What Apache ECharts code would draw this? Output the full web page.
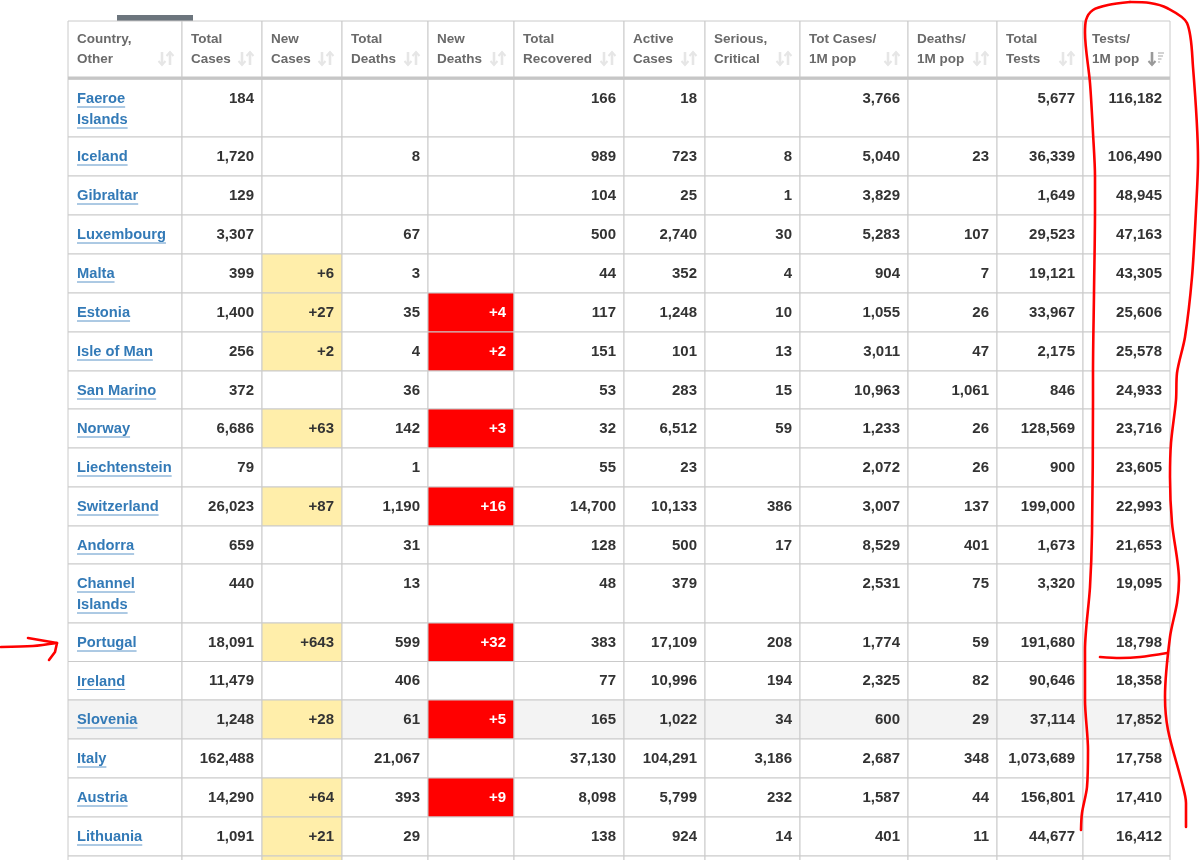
<!DOCTYPE html>
<html>
<head>
<meta charset="utf-8">
<title>Tests per 1M pop</title>
<script src="https://cdn.jsdelivr.net/npm/echarts@6/dist/echarts.min.js"></script>
<style>
html, body { margin: 0; padding: 0; background: #fff; overflow: hidden; }
#chart { width: 1200px; height: 860px; }
</style>
</head>
<body>
<div id="chart"></div>
<script>
// table values, as printed. last entry of each list is the row cut off by the picture edge
var headers = [
    ['Country,', 'Other'], ['Total', 'Cases'], ['New', 'Cases'], ['Total', 'Deaths'],
    ['New', 'Deaths'], ['Total', 'Recovered'], ['Active', 'Cases'], ['Serious,', 'Critical'],
    ['Tot Cases/', '1M pop'], ['Deaths/', '1M pop'], ['Total', 'Tests'], ['Tests/', '1M pop']
];
var countries = [['Faeroe', 'Islands'], ['Iceland'], ['Gibraltar'], ['Luxembourg'], ['Malta'], ['Estonia'], ['Isle of Man'], ['San Marino'], ['Norway'], ['Liechtenstein'], ['Switzerland'], ['Andorra'], ['Channel', 'Islands'], ['Portugal'], ['Ireland'], ['Slovenia'], ['Italy'], ['Austria'], ['Lithuania'], ['']];
var totalCases = ['184', '1,720', '129', '3,307', '399', '1,400', '256', '372', '6,686', '79', '26,023', '659', '440', '18,091', '11,479', '1,248', '162,488', '14,290', '1,091', ''];
var newCases = ['', '', '', '', '+6', '+27', '+2', '', '+63', '', '+87', '', '', '+643', '', '+28', '', '+64', '+21', ' '];
var totalDeaths = ['', '8', '', '67', '3', '35', '4', '36', '142', '1', '1,190', '31', '13', '599', '406', '61', '21,067', '393', '29', ''];
var newDeaths = ['', '', '', '', '', '+4', '+2', '', '+3', '', '+16', '', '', '+32', '', '+5', '', '+9', '', ''];
var totalRecovered = ['166', '989', '104', '500', '44', '117', '151', '53', '32', '55', '14,700', '128', '48', '383', '77', '165', '37,130', '8,098', '138', ''];
var activeCases = ['18', '723', '25', '2,740', '352', '1,248', '101', '283', '6,512', '23', '10,133', '500', '379', '17,109', '10,996', '1,022', '104,291', '5,799', '924', ''];
var seriousCritical = ['', '8', '1', '30', '4', '10', '13', '15', '59', '', '386', '17', '', '208', '194', '34', '3,186', '232', '14', ''];
var casesPerMillion = ['3,766', '5,040', '3,829', '5,283', '904', '1,055', '3,011', '10,963', '1,233', '2,072', '3,007', '8,529', '2,531', '1,774', '2,325', '600', '2,687', '1,587', '401', ''];
var deathsPerMillion = ['', '23', '', '107', '7', '26', '47', '1,061', '26', '26', '137', '401', '75', '59', '82', '29', '348', '44', '11', ''];
var totalTests = ['5,677', '36,339', '1,649', '29,523', '19,121', '33,967', '2,175', '846', '128,569', '900', '199,000', '1,673', '3,320', '191,680', '90,646', '37,114', '1,073,689', '156,801', '44,677', ''];
var testsPerMillion = ['116,182', '106,490', '48,945', '47,163', '43,305', '25,606', '25,578', '24,933', '23,716', '23,605', '22,993', '21,653', '19,095', '18,798', '18,358', '17,852', '17,758', '17,410', '16,412', ''];

var columns = [countries, totalCases, newCases, totalDeaths, newDeaths, totalRecovered, activeCases, seriousCritical, casesPerMillion, deathsPerMillion, totalTests, testsPerMillion];

// hand drawn red pen marks
var penBracketLeft = [[1130, 2], [1108, 5], [1093, 10], [1086, 20], [1085, 33], [1090, 83], [1093, 133], [1095, 177], [1095, 210], [1094, 293], [1093, 373], [1093, 400], [1092, 533], [1090, 587], [1085, 650], [1085, 700], [1088, 750], [1087, 787], [1082, 813], [1081, 830]];
var penBracketRight = [[1130, 2], [1150, 3], [1167, 8], [1187, 23], [1193, 67], [1198, 160], [1196, 210], [1192, 277], [1185, 337], [1177, 373], [1176, 400], [1171, 443], [1170, 477], [1172, 523], [1179, 580], [1177, 603], [1170, 637], [1165, 697], [1168, 730], [1182, 783], [1186, 803], [1186, 827]];
var penUnderline = [[1100, 657], [1120, 658], [1140, 657], [1167, 653]];
var penArrowShaft = [[1, 647], [33, 646], [57, 643]];
var penArrowHead = [[28, 638], [57, 643], [55, 652], [49, 660]];

// layout of the table, in pixels
var colEdges = [68, 182, 262, 342, 428, 514, 624, 705, 800, 908, 997, 1083, 1170];
var rowEdges = [79, 137, 176, 215, 254, 293, 332, 371, 409, 448, 487, 526, 564, 623, 661.5, 700, 739, 778, 817, 856, 895];
var headerTop = 21;
var highlightRow = 15;
var sortedColumn = 11;

var FONT = '"Liberation Sans", Arial, sans-serif';
var LINE = '#cacaca';
var measure = document.createElement('canvas').getContext('2d');

function cellFill(col, row, text) {
    if (col === 2 && text) return '#ffeeaa';
    if (col === 4 && text) return '#ff0000';
    if (row === highlightRow) return '#f3f3f3';
    return '#ffffff';
}

function renderCell(params, api) {
    var col = api.value(0), row = api.value(1);
    var lt = api.coord([colEdges[col], rowEdges[row]]);
    var rb = api.coord([colEdges[col + 1], rowEdges[row + 1]]);
    var value = columns[col][row];
    var children = [{
        type: 'rect',
        shape: { x: lt[0], y: lt[1], width: rb[0] - lt[0], height: rb[1] - lt[1] },
        style: { fill: cellFill(col, row, value), stroke: LINE, lineWidth: 1 }
    }];
    if (col === 0) {
        value.forEach(function (line, i) {
            var font = 'bold 14.7px ' + FONT;
            var y = lt[1] + 20 + i * 21;
            measure.font = font;
            var w = measure.measureText(line).width;
            children.push({
                type: 'text',
                style: { x: lt[0] + 9, y: y, text: line, font: font, fill: '#337ab7', align: 'left', verticalAlign: 'middle' }
            });
            if (line) {
                children.push({
                    type: 'line',
                    shape: { x1: lt[0] + 9, y1: y + 8, x2: lt[0] + 9 + w, y2: y + 8 },
                    style: { stroke: '#5a94c8', lineWidth: 1 }
                });
            }
        });
    } else if (value) {
        children.push({
            type: 'text',
            style: {
                x: rb[0] - 8, y: lt[1] + 19.5, text: value, font: 'bold 15px ' + FONT,
                fill: col === 4 ? '#ffffff' : '#333333', align: 'right', verticalAlign: 'middle'
            }
        });
    }
    return { type: 'group', children: children };
}

function arrow(x, y1, y2, color) {
    var dir = y2 > y1 ? -1 : 1;
    return [
        { type: 'line', shape: { x1: x, y1: y1, x2: x, y2: y2 }, style: { stroke: color, lineWidth: 2.6 } },
        { type: 'polyline', shape: { points: [[x - 3.5, y2 + dir * 4], [x, y2], [x + 3.5, y2 + dir * 4]] }, style: { fill: 'none', stroke: color, lineWidth: 2 } }
    ];
}

function renderHeader(params, api) {
    var col = api.value(0);
    var lt = api.coord([colEdges[col], headerTop]);
    var rb = api.coord([colEdges[col + 1], rowEdges[0]]);
    var children = [{
        type: 'rect',
        shape: { x: lt[0], y: lt[1], width: rb[0] - lt[0], height: rb[1] - lt[1] },
        style: { fill: '#ffffff', stroke: LINE, lineWidth: 1 }
    }, {
        type: 'line',
        shape: { x1: lt[0], y1: rb[1] - 1, x2: rb[0], y2: rb[1] - 1 },
        style: { stroke: '#c6c6c6', lineWidth: 3 }
    }];
    headers[col].forEach(function (line, i) {
        children.push({
            type: 'text',
            style: {
                x: lt[0] + 9, y: lt[1] + 18.5 + i * 20, text: line, font: 'bold 13.5px ' + FONT,
                fill: '#6a6a6a', align: 'left', verticalAlign: 'middle'
            }
        });
    });
    var right = rb[0];
    var top = lt[1] + 31, bottom = lt[1] + 44;
    if (col === sortedColumn) {
        children = children.concat(arrow(right - 18, top, bottom, '#9a9a9a'));
        [6, 5, 3.5, 2].forEach(function (w, i) {
            children.push({
                type: 'line',
                shape: { x1: right - 12, y1: top + 1 + i * 3, x2: right - 12 + w, y2: top + 1 + i * 3 },
                style: { stroke: '#c8c8c8', lineWidth: 1.6 }
            });
        });
    } else {
        children = children.concat(arrow(right - 20, top, bottom, '#e6e6e6'));
        children = children.concat(arrow(right - 12, bottom, top, '#e6e6e6'));
    }
    return { type: 'group', children: children };
}

function renderTab(params, api) {
    var lt = api.coord([117, 15]);
    var rb = api.coord([193, 21]);
    return { type: 'rect', shape: { x: lt[0], y: lt[1], width: rb[0] - lt[0], height: rb[1] - lt[1] }, style: { fill: '#6c757d' } };
}

function penSeries(points, smooth) {
    return {
        type: 'line',
        data: points,
        smooth: smooth,
        symbol: 'none',
        silent: true,
        z: 10,
        lineStyle: { color: '#ff0000', width: 2.6, cap: 'round', join: 'round' }
    };
}

var cellData = [];
columns.forEach(function (list, c) {
    list.forEach(function (v, r) { cellData.push([c, r]); });
});
var headerData = headers.map(function (h, c) { return [c]; });

var chart = echarts.init(document.getElementById('chart'), null, { renderer: 'canvas' });
chart.setOption({
    animation: false,
    backgroundColor: '#ffffff',
    grid: { left: 0, right: 0, top: 0, bottom: 0 },
    xAxis: { type: 'value', min: 0, max: 1200, show: false },
    yAxis: { type: 'value', min: 0, max: 860, inverse: true, show: false },
    series: [
        { type: 'custom', data: [[0]], renderItem: renderTab, encode: { x: 0 }, z: 1, silent: true },
        { type: 'custom', data: cellData, renderItem: renderCell, encode: { x: 0, y: 1 }, z: 2, silent: true, clip: true },
        { type: 'custom', data: headerData, renderItem: renderHeader, encode: { x: 0 }, z: 3, silent: true },
        penSeries(penBracketLeft, 0.3),
        penSeries(penBracketRight, 0.3),
        penSeries(penUnderline, 0.3),
        penSeries(penArrowShaft, 0.3),
        penSeries(penArrowHead, false)
    ]
});
window.addEventListener('resize', chart.resize);
</script>
</body>
</html>
